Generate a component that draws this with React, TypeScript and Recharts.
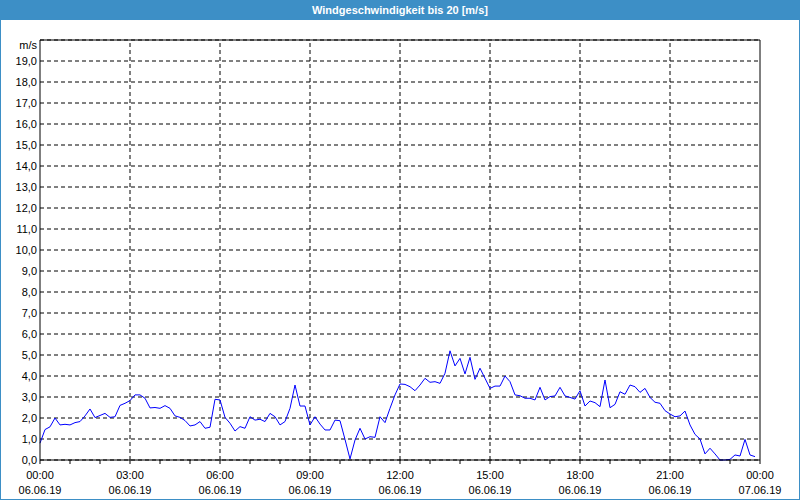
import React from 'react';
import { LineChart, Line, XAxis, YAxis, CartesianGrid, ReferenceLine } from 'recharts';

// wind speed in m/s, one reading every 10 minutes starting 06.06.19 00:00
const windSpeed: number[] = [
  0.8, 1.45, 1.58, 2.0, 1.67, 1.7, 1.67, 1.78, 1.83, 2.1,
  2.43, 2.02, 2.12, 2.22, 2.03, 2.06, 2.6, 2.7, 2.83, 3.1,
  3.1, 2.94, 2.48, 2.5, 2.46, 2.59, 2.46, 2.1, 2.03, 1.88,
  1.62, 1.67, 1.83, 1.51, 1.56, 2.89, 2.86, 2.03, 1.75, 1.38,
  1.59, 1.51, 2.06, 1.9, 1.94, 1.83, 2.22, 2.06, 1.67, 1.83,
  2.46, 3.57, 2.57, 2.57, 1.67, 2.06, 1.71, 1.43, 1.43, 1.9,
  1.87, 0.98, 0.05, 0.95, 1.51, 1.0, 1.11, 1.08, 2.06, 1.78,
  2.46, 3.1, 3.62, 3.6, 3.49, 3.3, 3.57, 3.89, 3.7, 3.73,
  3.65, 4.13, 5.2, 4.48, 4.84, 4.1, 4.89, 3.84, 4.37, 3.89,
  3.41, 3.52, 3.52, 4.0, 3.73, 3.1, 3.06, 2.94, 2.94, 2.86,
  3.46, 2.86, 3.02, 3.05, 3.46, 3.05, 2.98, 2.9, 3.3, 2.57,
  2.81, 2.73, 2.54, 3.81, 2.49, 2.65, 3.25, 3.13, 3.57, 3.49,
  3.22, 3.41, 2.98, 2.75, 2.7, 2.35, 2.19, 2.06, 2.1, 2.33,
  1.67, 1.22, 1.0, 0.29, 0.56, 0.29, 0.0, 0.0, 0.03, 0.24,
  0.19, 0.98, 0.24, 0.16,
];

const stepMinutes = 10;
const hourTicks: number[] = [0, 60, 120, 180, 240, 300, 360, 420, 480, 540, 600, 660, 720, 780, 840, 900, 960, 1020, 1080, 1140, 1200, 1260, 1320, 1380, 1440];
const labelTicks: number[] = [0, 180, 360, 540, 720, 900, 1080, 1260, 1440];
const timeLabels: string[] = ['00:00', '03:00', '06:00', '09:00', '12:00', '15:00', '18:00', '21:00', '00:00'];
const dateLabels: string[] = ['06.06.19', '06.06.19', '06.06.19', '06.06.19', '06.06.19', '06.06.19', '06.06.19', '06.06.19', '07.06.19'];
const yTicks: number[] = [0, 1, 2, 3, 4, 5, 6, 7, 8, 9, 10, 11, 12, 13, 14, 15, 16, 17, 18, 19, 20];
const gridVertical: number[] = [180, 360, 540, 720, 900, 1080, 1260];

const data = windSpeed.map((v, i) => ({ t: i * stepMinutes, v }));

const FONT = '"Liberation Sans", Arial, sans-serif';
const BLUE = '#3d8fc6';

const XTick = (props: any) => {
  const { x, y, payload } = props;
  const idx = labelTicks.indexOf(payload.value);
  if (idx < 0) return null;
  return (
    <g>
      <text x={x} y={y + 13} textAnchor="middle" fontSize={11} fontFamily={FONT} fill="#000">
        {timeLabels[idx]}
      </text>
      <text x={x} y={y + 28} textAnchor="middle" fontSize={11} fontFamily={FONT} fill="#000">
        {dateLabels[idx]}
      </text>
    </g>
  );
};

const YTick = (props: any) => {
  const { y, payload } = props;
  const label = payload.value === 20 ? 'm/s' : payload.value.toFixed(1).replace('.', ',');
  return (
    <text x={37} y={payload.value === 20 ? y + 9 : y + 4} textAnchor="end" fontSize={11} fontFamily={FONT} fill="#000">
      {label}
    </text>
  );
};

export default function App() {
  return (
    <div style={{ position: 'absolute', left: 0, top: 0, width: 800, height: 500, background: '#fff', overflow: 'hidden' }}>
      <div
        style={{
          position: 'absolute', left: 0, top: 0, width: 800, height: 20, background: BLUE,
          color: '#fff', fontFamily: FONT, fontSize: 11, lineHeight: '20px', textAlign: 'center', fontWeight: 'bold',
        }}
      >
        Windgeschwindigkeit bis 20 [m/s]
      </div>
      <div style={{ position: 'absolute', left: 0, top: 20, width: 800, height: 480, boxSizing: 'border-box', borderLeft: `1px solid ${BLUE}`, borderRight: `1px solid ${BLUE}`, borderBottom: `1px solid ${BLUE}`, pointerEvents: 'none', zIndex: 2 }} />
      <div style={{ position: 'absolute', left: 0, top: 0 }}>
        <LineChart width={800} height={500} data={data} margin={{ top: 40, right: 40, bottom: 0, left: 0 }}>
          <CartesianGrid vertical={false} stroke="#000" strokeDasharray="4 3" />
          {gridVertical.map((g) => (
            <ReferenceLine key={g} x={g} stroke="#000" strokeDasharray="4 3" />
          ))}
          <ReferenceLine y={20} stroke="#000" />
          <ReferenceLine x={1440} stroke="#000" />
          <XAxis
            dataKey="t"
            type="number"
            domain={[0, 1440]}
            ticks={hourTicks}
            interval={0}
            height={40}
            tickSize={4}
            stroke="#000"
            tickLine={{ stroke: '#000' }}
            axisLine={{ stroke: '#000' }}
            tick={<XTick />}
          />
          <YAxis
            type="number"
            domain={[0, 20]}
            ticks={yTicks}
            interval={0}
            width={40}
            tickLine={false}
            axisLine={{ stroke: '#000' }}
            tick={<YTick />}
          />
          <Line type="linear" dataKey="v" stroke="#0000ff" strokeWidth={1} dot={false} isAnimationActive={false} />
        </LineChart>
      </div>
    </div>
  );
}
